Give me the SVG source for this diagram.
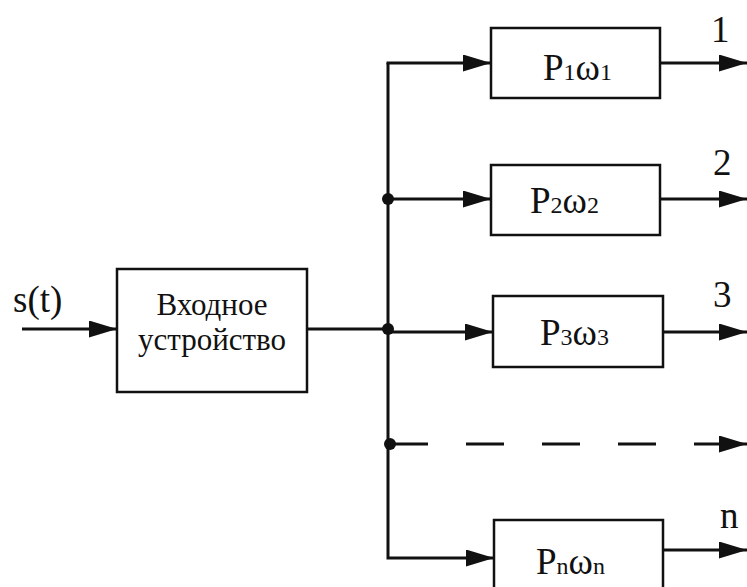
<svg xmlns="http://www.w3.org/2000/svg" width="747" height="587" viewBox="0 0 747 587">
<defs>
<marker id="ah" markerWidth="28" markerHeight="17" refX="28" refY="8.5" markerUnits="userSpaceOnUse" orient="auto">
<path d="M0,0 L28,8.5 L0,17 Z" fill="#111"/>
</marker>
<style>
.box{fill:#fff;stroke:#111;stroke-width:2.5}
.ln{fill:none;stroke:#111;stroke-width:3}
.t{font-family:"Liberation Serif","Times New Roman",serif;fill:#111}
.big{font-size:37px}
.sub{font-size:24px}
.lbl{font-size:31px}
</style>
</defs>
<rect width="747" height="587" fill="#fff"/>
<g id="connectors">
<path class="ln" d="M22,329 H117" marker-end="url(#ah)"/>
<path class="ln" d="M307,329 H388"/>
<path class="ln" d="M388,63 V558 H494" marker-end="url(#ah)"/>
<path class="ln" d="M386.5,63 H491" marker-end="url(#ah)"/>
<path class="ln" d="M388,199 H491" marker-end="url(#ah)"/>
<path class="ln" d="M388,332 H493" marker-end="url(#ah)"/>
<path class="ln" d="M390,444 H727" stroke-dasharray="38,38"/>
<path class="ln" d="M720,444 H747" marker-end="url(#ah)"/>
<path class="ln" d="M660,63 H747" marker-end="url(#ah)"/>
<path class="ln" d="M660,199 H747" marker-end="url(#ah)"/>
<path class="ln" d="M663,332 H747" marker-end="url(#ah)"/>
<path class="ln" d="M663,550 H747" marker-end="url(#ah)"/>
<circle cx="388" cy="199" r="6" fill="#111"/>
<circle cx="388" cy="329" r="6" fill="#111"/>
<circle cx="390" cy="444" r="6" fill="#111"/>
</g>
<g id="input-label"><text class="t big" x="13" y="312">s(t)</text></g>
<g id="input-device">
<rect class="box" x="117" y="269" width="190" height="123"/>
<text class="t lbl" x="212" y="315" text-anchor="middle">Входное</text>
<text class="t lbl" x="212" y="350" text-anchor="middle">устройство</text>
</g>
<g id="ch1">
<rect class="box" x="491" y="28" width="169" height="70"/>
<text class="t big" x="543" y="80">P<tspan class="sub">1</tspan>ω<tspan class="sub">1</tspan></text>
<text class="t big" x="711" y="42">1</text>
</g>
<g id="ch2">
<rect class="box" x="491" y="165" width="169" height="70"/>
<text class="t big" x="530" y="213">P<tspan class="sub">2</tspan>ω<tspan class="sub">2</tspan></text>
<text class="t big" x="713" y="175">2</text>
</g>
<g id="ch3">
<rect class="box" x="493" y="296" width="170" height="71"/>
<text class="t big" x="540" y="345">P<tspan class="sub">3</tspan>ω<tspan class="sub">3</tspan></text>
<text class="t big" x="713" y="307">3</text>
</g>
<g id="chn">
<rect class="box" x="494" y="520" width="169" height="80"/>
<text class="t big" x="536" y="574">P<tspan class="sub">n</tspan>ω<tspan class="sub">n</tspan></text>
<text class="t big" x="720" y="528">n</text>
</g>
</svg>
